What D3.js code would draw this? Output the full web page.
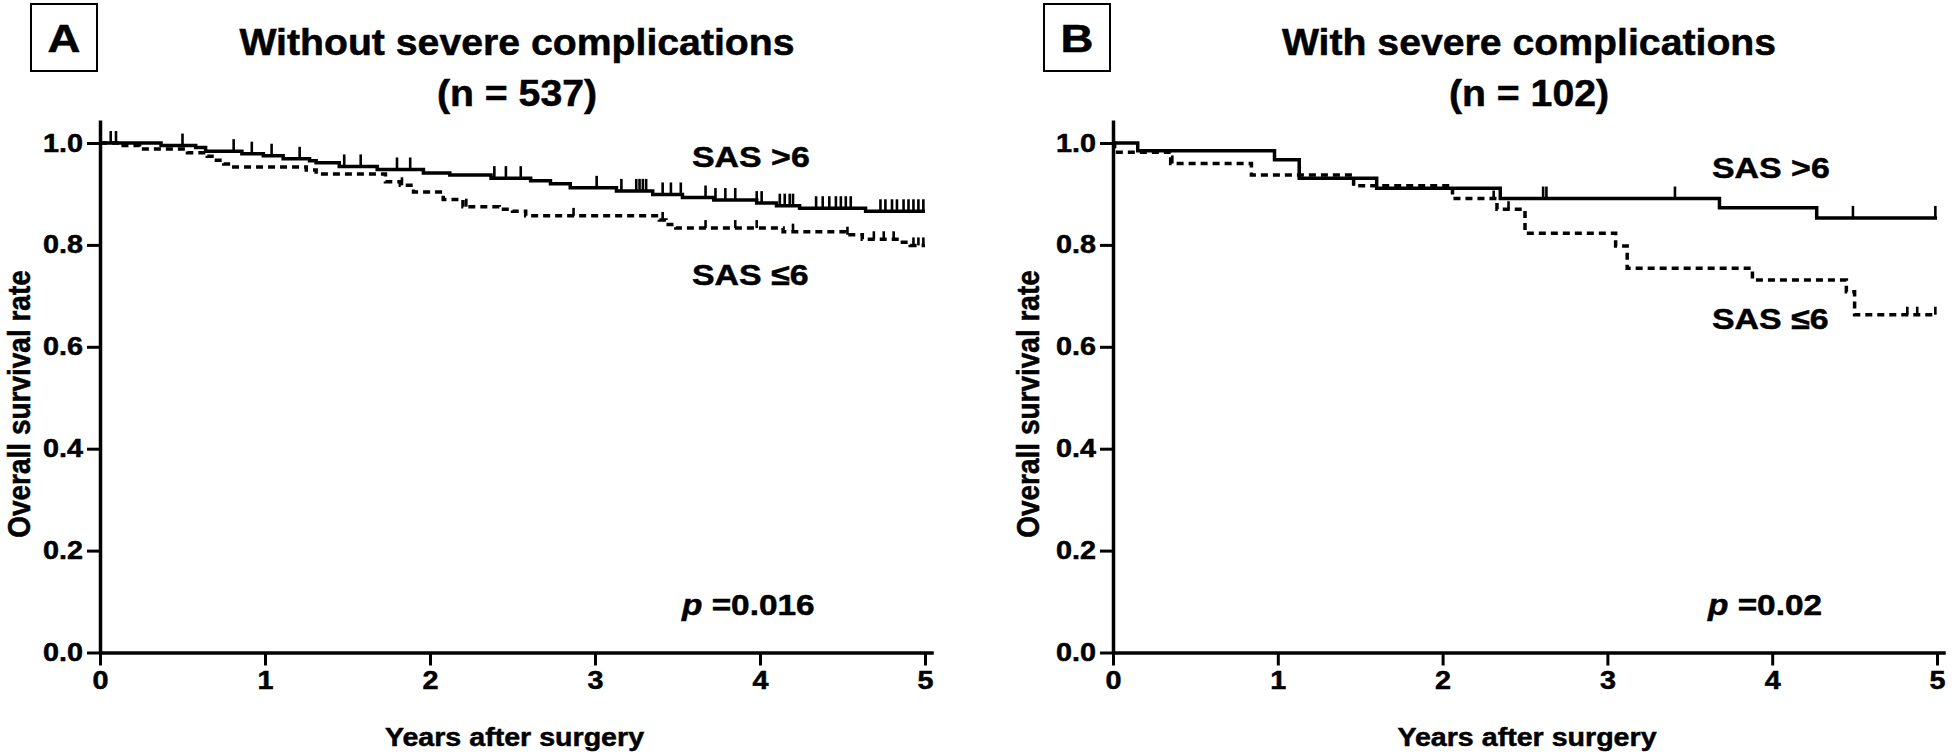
<!DOCTYPE html>
<html>
<head>
<meta charset="utf-8">
<script src="https://cdn.jsdelivr.net/npm/d3@7"></script>
<style>
  html, body { margin: 0; padding: 0; background: #fff; }
  svg { display: block; }
  text { font-family: "Liberation Sans", Arial, Helvetica, sans-serif; font-weight: bold; fill: #000;
         stroke: #000; stroke-width: 0.5px; }
</style>
</head>
<body>
<svg id="chart" width="1952" height="755"></svg>
<script>
// ---------------- DATA ----------------
const panelLetters = ["A", "B"];
const panelTitles = ["Without severe complications", "With severe complications"];
const panelCounts = ["(n = 537)", "(n = 102)"];
const pValues = ["0.016", "0.02"];
const seriesNames = ["SAS >6", "SAS \u22646"];
const yTicks = [0, 0.2, 0.4, 0.6, 0.8, 1.0];
const xTicks = [0, 1, 2, 3, 4, 5];
const xTitle = "Years after surgery";
const yTitle = "Overall survival rate";

// Panel A, SAS >6: [time of event (years), survival after event]
const aHighSteps = [
  [0.37, 0.995], [0.58, 0.991], [0.64, 0.984], [0.86, 0.979], [0.99, 0.975],
  [1.11, 0.969], [1.27, 0.965], [1.31, 0.961], [1.45, 0.954], [1.68, 0.948],
  [1.96, 0.941], [2.12, 0.937], [2.37, 0.931], [2.61, 0.926], [2.73, 0.920],
  [2.85, 0.912], [3.13, 0.906], [3.35, 0.899], [3.53, 0.893], [3.72, 0.888],
  [3.98, 0.882], [4.10, 0.877], [4.24, 0.872], [4.64, 0.866]
];
const aHighCensored = [0.065, 0.097, 0.50, 0.81, 0.92, 1.04, 1.21, 1.48, 1.58, 1.80, 1.88,
  2.39, 2.46, 2.55, 3.01, 3.16, 3.25, 3.27, 3.29, 3.31, 3.41, 3.46, 3.52, 3.67, 3.73,
  3.79, 3.85, 3.98, 4.01, 4.12, 4.15, 4.18, 4.20, 4.34, 4.38, 4.42, 4.46, 4.49, 4.52,
  4.55, 4.73, 4.76, 4.80, 4.83, 4.87, 4.90, 4.93, 4.96, 4.99];

// Panel A, SAS <=6
const aLowSteps = [
  [0.12, 0.995], [0.24, 0.988], [0.53, 0.981], [0.65, 0.974], [0.69, 0.966],
  [0.75, 0.959], [0.79, 0.953], [1.25, 0.947], [1.31, 0.939], [1.73, 0.924],
  [1.82, 0.917], [1.90, 0.904], [2.08, 0.889], [2.20, 0.875], [2.42, 0.870],
  [2.50, 0.866], [2.58, 0.857], [3.39, 0.849], [3.43, 0.840], [3.49, 0.833],
  [4.14, 0.826], [4.52, 0.820], [4.62, 0.811], [4.85, 0.805], [4.91, 0.799]
];
const aLowCensored = [1.83, 2.22, 2.87, 3.41, 3.67, 3.85, 3.98, 4.20, 4.53, 4.69, 4.75,
  4.81, 4.93, 4.96, 4.99];

// Panel B, SAS >6
const bHighSteps = [
  [0.15, 0.985], [0.98, 0.967], [1.13, 0.931], [1.60, 0.911], [2.35, 0.891],
  [3.68, 0.873], [4.27, 0.853]
];
const bHighCensored = [1.13, 2.61, 2.63, 3.41, 4.49, 4.99];

// Panel B, SAS <=6
const bLowSteps = [
  [0.01, 0.982], [0.35, 0.960], [0.84, 0.937], [1.46, 0.916], [2.06, 0.891],
  [2.33, 0.870], [2.50, 0.823], [3.05, 0.798], [3.12, 0.754], [3.88, 0.731],
  [4.45, 0.708], [4.50, 0.663]
];
const bLowCensored = [0.36, 1.46, 2.31, 2.40, 4.82, 4.88, 4.99];

// ---------------- LAYOUT ----------------
const SX = 1.15; // horizontal stretch of the original figure's lettering
const panels = [
  { x0: 100, x5: 925, box: [31, 4, 66, 67], titleX: 517,
    labelX: 692, hiLabelY: 167, loLabelY: 285, pX: 682, yTitleX: 30,
    series: [[aHighSteps, aHighCensored], [aLowSteps, aLowCensored]] },
  { x0: 1113, x5: 1937, box: [1044, 4, 66, 67], titleX: 1529,
    labelX: 1712, hiLabelY: 178, loLabelY: 329, pX: 1708, yTitleX: 1039,
    series: [[bHighSteps, bHighCensored], [bLowSteps, bLowCensored]] }
];
const yBottom = 652.5, yTop = 143;
const svg = d3.select("#chart");

function stretchedText(g, x, y, str, size, anchor, sx) {
  return g.append("g")
    .attr("transform", `translate(${x},${y}) scale(${sx || SX},1)`)
    .append("text")
    .attr("text-anchor", anchor || "start")
    .style("font-size", size + "px")
    .text(str);
}

function survivalAt(steps, t) {
  let v = 1;
  for (const s of steps) { if (s[0] <= t) v = s[1]; }
  return v;
}

panels.forEach((p, i) => {
  const g = svg.append("g");
  const x = d3.scaleLinear().domain([0, 5]).range([p.x0, p.x5]);
  const y = d3.scaleLinear().domain([0, 1]).range([yBottom, yTop]);
  const xAxisScale = x.copy().domain([0, 5.05]).range([p.x0, x(5.05)]);
  const yAxisScale = y.copy().domain([0, 1.045]).range([yBottom, y(1.045)]);

  // panel letter box
  g.append("rect")
    .attr("x", p.box[0]).attr("y", p.box[1])
    .attr("width", p.box[2]).attr("height", p.box[3])
    .attr("fill", "none").attr("stroke", "#000").attr("stroke-width", 2);
  stretchedText(g, p.box[0] + p.box[2] / 2, 52, panelLetters[i], 38, "middle", 1.2);

  // titles
  stretchedText(g, p.titleX, 55, panelTitles[i], 37, "middle", 1.06);
  stretchedText(g, p.titleX, 106, panelCounts[i], 37, "middle", 1.06);

  // axes
  const yAxis = g.append("g")
    .attr("transform", `translate(${p.x0},0)`)
    .call(d3.axisLeft(yAxisScale).tickValues(yTicks).tickFormat(d3.format(".1f"))
      .tickSize(13).tickSizeOuter(0).tickPadding(4));
  const xAxis = g.append("g")
    .attr("transform", `translate(0,${yBottom})`)
    .call(d3.axisBottom(xAxisScale).tickValues(xTicks).tickFormat(d3.format("d"))
      .tickSize(13).tickSizeOuter(0).tickPadding(6));
  [yAxis, xAxis].forEach(a => {
    a.select(".domain").attr("stroke", "#000").attr("stroke-width", 3.5);
    a.selectAll(".tick line").attr("stroke", "#000").attr("stroke-width", 3);
    a.selectAll(".tick text").style("font-size", "25px")
      .attr("font-family", null).attr("fill", "#000");
  });
  yAxis.selectAll(".tick text").attr("x", -17 / SX).attr("transform", `scale(${SX},1)`);
  xAxis.selectAll(".tick text").attr("transform", `scale(${SX},1)`);

  // axis titles
  stretchedText(g, (p.x0 + p.x5) / 2 + 2, 746, xTitle, 26, "middle", 1.1);
  g.append("g")
    .attr("transform", `translate(${p.yTitleX},404) scale(1.1,1) rotate(-90)`)
    .append("text").attr("text-anchor", "middle").style("font-size", "28px").text(yTitle);

  // survival curves
  const line = d3.line().x(d => x(d[0])).y(d => y(d[1])).curve(d3.curveStepAfter);
  p.series.forEach(([steps, censored], k) => {
    const pts = [[0, 1], ...steps, [5, steps[steps.length - 1][1]]];
    g.append("path").datum(pts)
      .attr("d", line)
      .attr("fill", "none").attr("stroke", "#000").attr("stroke-width", 3.5)
      .attr("stroke-dasharray", k === 1 ? "7,5" : null);
    const th = k === 0 ? 12 : 8;
    g.selectAll(null).data(censored).enter().append("line")
      .attr("x1", d => x(d)).attr("x2", d => x(d))
      .attr("y1", d => y(survivalAt(steps, d)))
      .attr("y2", d => y(survivalAt(steps, d)) - th)
      .attr("stroke", "#000").attr("stroke-width", 2.6);
  });

  // series labels
  stretchedText(g, p.labelX, p.hiLabelY, seriesNames[0], 30, "start", 1.13);
  stretchedText(g, p.labelX, p.loLabelY, seriesNames[1], 30, "start", 1.13);

  // p value
  const pt = stretchedText(g, p.pX, 615, "", 29, "start");
  pt.append("tspan").style("font-style", "italic").text("p");
  pt.append("tspan").text(" =" + pValues[i]);
});
</script>
</body>
</html>
